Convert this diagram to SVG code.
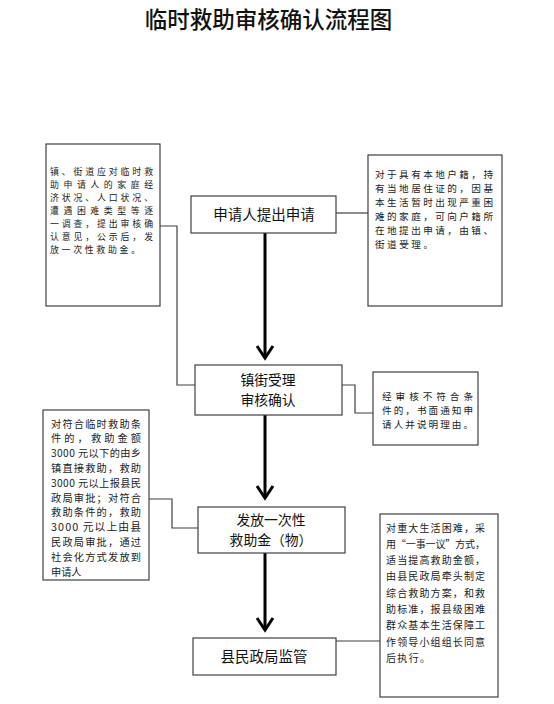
<svg xmlns="http://www.w3.org/2000/svg" width="554" height="704" viewBox="0 0 554 704">
<style>
.box{fill:#fff;stroke:#404040;stroke-width:1.2}
.lbl{font-family:"Noto Sans CJK SC","Liberation Sans",sans-serif;font-size:14.5px;fill:#111;text-anchor:middle}
.lbl2{font-size:13.8px}
.sm{font-family:"Noto Sans CJK SC","Liberation Sans",sans-serif;font-size:9.6px;fill:#222}
.con{fill:none;stroke:#404040;stroke-width:1.2}
.arr{fill:none;stroke:#000;stroke-width:3}
.title{font-family:"Noto Sans CJK SC","Liberation Sans",sans-serif;font-size:22.5px;fill:#111;text-anchor:middle;font-weight:500}
</style>
<defs>
<marker id="ah" markerUnits="userSpaceOnUse" viewBox="-16 -10 20 20" refX="0" refY="0" markerWidth="20" markerHeight="20" orient="auto">
<path d="M-12,-8 L0,0 L-12,8" fill="none" stroke="#000" stroke-width="3"/>
</marker>
</defs>
<text class="title" x="268.5" y="28">临时救助审核确认流程图</text>

<g id="connectors">
<path class="con" d="M160,226 H177 V385 H195"/>
<path class="con" d="M336,213 H368"/>
<path class="con" d="M342,385 H355 V413 H373"/>
<path class="con" d="M149,499 H172 V528 H198"/>
<path class="con" d="M336,641 H380"/>
<path class="arr" d="M265,233 V358" marker-end="url(#ah)"/>
<path class="arr" d="M265,415 V498" marker-end="url(#ah)"/>
<path class="arr" d="M265,553 V630" marker-end="url(#ah)"/>
</g>

<g id="n-note1">
<rect class="box" x="46" y="144" width="114" height="162"/>
<text class="sm" style="font-size:8.9px"><tspan x="50" y="175.2" textLength="103" lengthAdjust="spacing">镇、街道应对临时救</tspan><tspan x="50" y="188.2" textLength="103" lengthAdjust="spacing">助申请人的家庭经</tspan><tspan x="50" y="201.2" textLength="103" lengthAdjust="spacing">济状况、人口状况、</tspan><tspan x="50" y="214.2" textLength="103" lengthAdjust="spacing">遭遇困难类型等逐</tspan><tspan x="50" y="227.2" textLength="103" lengthAdjust="spacing">一调查，提出审核确</tspan><tspan x="50" y="240.2" textLength="103" lengthAdjust="spacing">认意见，公示后，发</tspan><tspan x="50" y="253.2" textLength="90" lengthAdjust="spacing">放一次性救助金。</tspan></text>
</g>

<g id="n-apply">
<rect class="box" x="191" y="196" width="145" height="37"/>
<text class="lbl" x="264" y="220">申请人提出申请</text>
</g>

<g id="n-note2">
<rect class="box" x="368" y="155" width="134" height="151"/>
<text class="sm"><tspan x="375" y="178.4" textLength="118" lengthAdjust="spacing">对于具有本地户籍，持</tspan><tspan x="375" y="192.4" textLength="118" lengthAdjust="spacing">有当地居住证的，因基</tspan><tspan x="375" y="206.4" textLength="118" lengthAdjust="spacing">本生活暂时出现严重困</tspan><tspan x="375" y="220.4" textLength="118" lengthAdjust="spacing">难的家庭，可向户籍所</tspan><tspan x="375" y="234.4" textLength="118" lengthAdjust="spacing">在地提出申请，由镇、</tspan><tspan x="375" y="248.4" textLength="58" lengthAdjust="spacing">街道受理。</tspan></text>
</g>

<g id="n-review">
<rect class="box" x="195" y="365" width="147" height="50"/>
<text class="lbl lbl2"><tspan x="268" y="385">镇街受理</tspan><tspan x="268" y="405">审核确认</tspan></text>
</g>

<g id="n-note3">
<rect class="box" x="373" y="372" width="105" height="73"/>
<text class="sm"><tspan x="382" y="400.4" textLength="91" lengthAdjust="spacing">经审核不符合条</tspan><tspan x="382" y="414.4" textLength="91" lengthAdjust="spacing">件的，书面通知申</tspan><tspan x="382" y="428.4" textLength="91" lengthAdjust="spacing">请人并说明理由。</tspan></text>
</g>

<g id="n-note4">
<rect class="box" x="43" y="410" width="106" height="170"/>
<text class="sm" style="font-size:10.2px"><tspan x="51" y="427.5" textLength="90" lengthAdjust="spacing">对符合临时救助条</tspan><tspan x="51" y="442.3" textLength="90" lengthAdjust="spacing">件的，救助金额</tspan><tspan x="51" y="457.1" textLength="90" lengthAdjust="spacing">3000 元以下的由乡</tspan><tspan x="51" y="471.9" textLength="90" lengthAdjust="spacing">镇直接救助，救助</tspan><tspan x="51" y="486.7" textLength="90" lengthAdjust="spacing">3000 元以上报县民</tspan><tspan x="51" y="501.5" textLength="90" lengthAdjust="spacing">政局审批；对符合</tspan><tspan x="51" y="516.3" textLength="90" lengthAdjust="spacing">救助条件的，救助</tspan><tspan x="51" y="531.1" textLength="90" lengthAdjust="spacing" style="font-size:10.8px">3000 元以上由县</tspan><tspan x="51" y="545.9" textLength="90" lengthAdjust="spacing">民政局审批，通过</tspan><tspan x="51" y="560.7" textLength="90" lengthAdjust="spacing">社会化方式发放到</tspan><tspan x="51" y="575.5">申请人</tspan></text>
</g>

<g id="n-pay">
<rect class="box" x="198" y="507" width="147" height="46"/>
<text class="lbl lbl2"><tspan x="271" y="525">发放一次性</tspan><tspan x="271" y="545">救助金（物）</tspan></text>
</g>

<g id="n-note5">
<rect class="box" x="380" y="514" width="118" height="183"/>
<text class="sm" style="font-size:10px"><tspan x="386" y="531.5" textLength="99" lengthAdjust="spacing">对重大生活困难，采</tspan><tspan x="386" y="547.8" textLength="99" lengthAdjust="spacing">用“一事一议”方式，</tspan><tspan x="386" y="564.1" textLength="99" lengthAdjust="spacing">适当提高救助金额，</tspan><tspan x="386" y="580.4" textLength="99" lengthAdjust="spacing">由县民政局牵头制定</tspan><tspan x="386" y="596.7" textLength="99" lengthAdjust="spacing">综合救助方案，和救</tspan><tspan x="386" y="613" textLength="99" lengthAdjust="spacing">助标准，报县级困难</tspan><tspan x="386" y="629.3" textLength="99" lengthAdjust="spacing">群众基本生活保障工</tspan><tspan x="386" y="645.6" textLength="99" lengthAdjust="spacing">作领导小组组长同意</tspan><tspan x="386" y="661.9" textLength="44" lengthAdjust="spacing">后执行。</tspan></text>
</g>

<g id="n-supervise">
<rect class="box" x="193" y="638" width="143" height="37"/>
<text class="lbl" x="264" y="662">县民政局监管</text>
</g>
</svg>
